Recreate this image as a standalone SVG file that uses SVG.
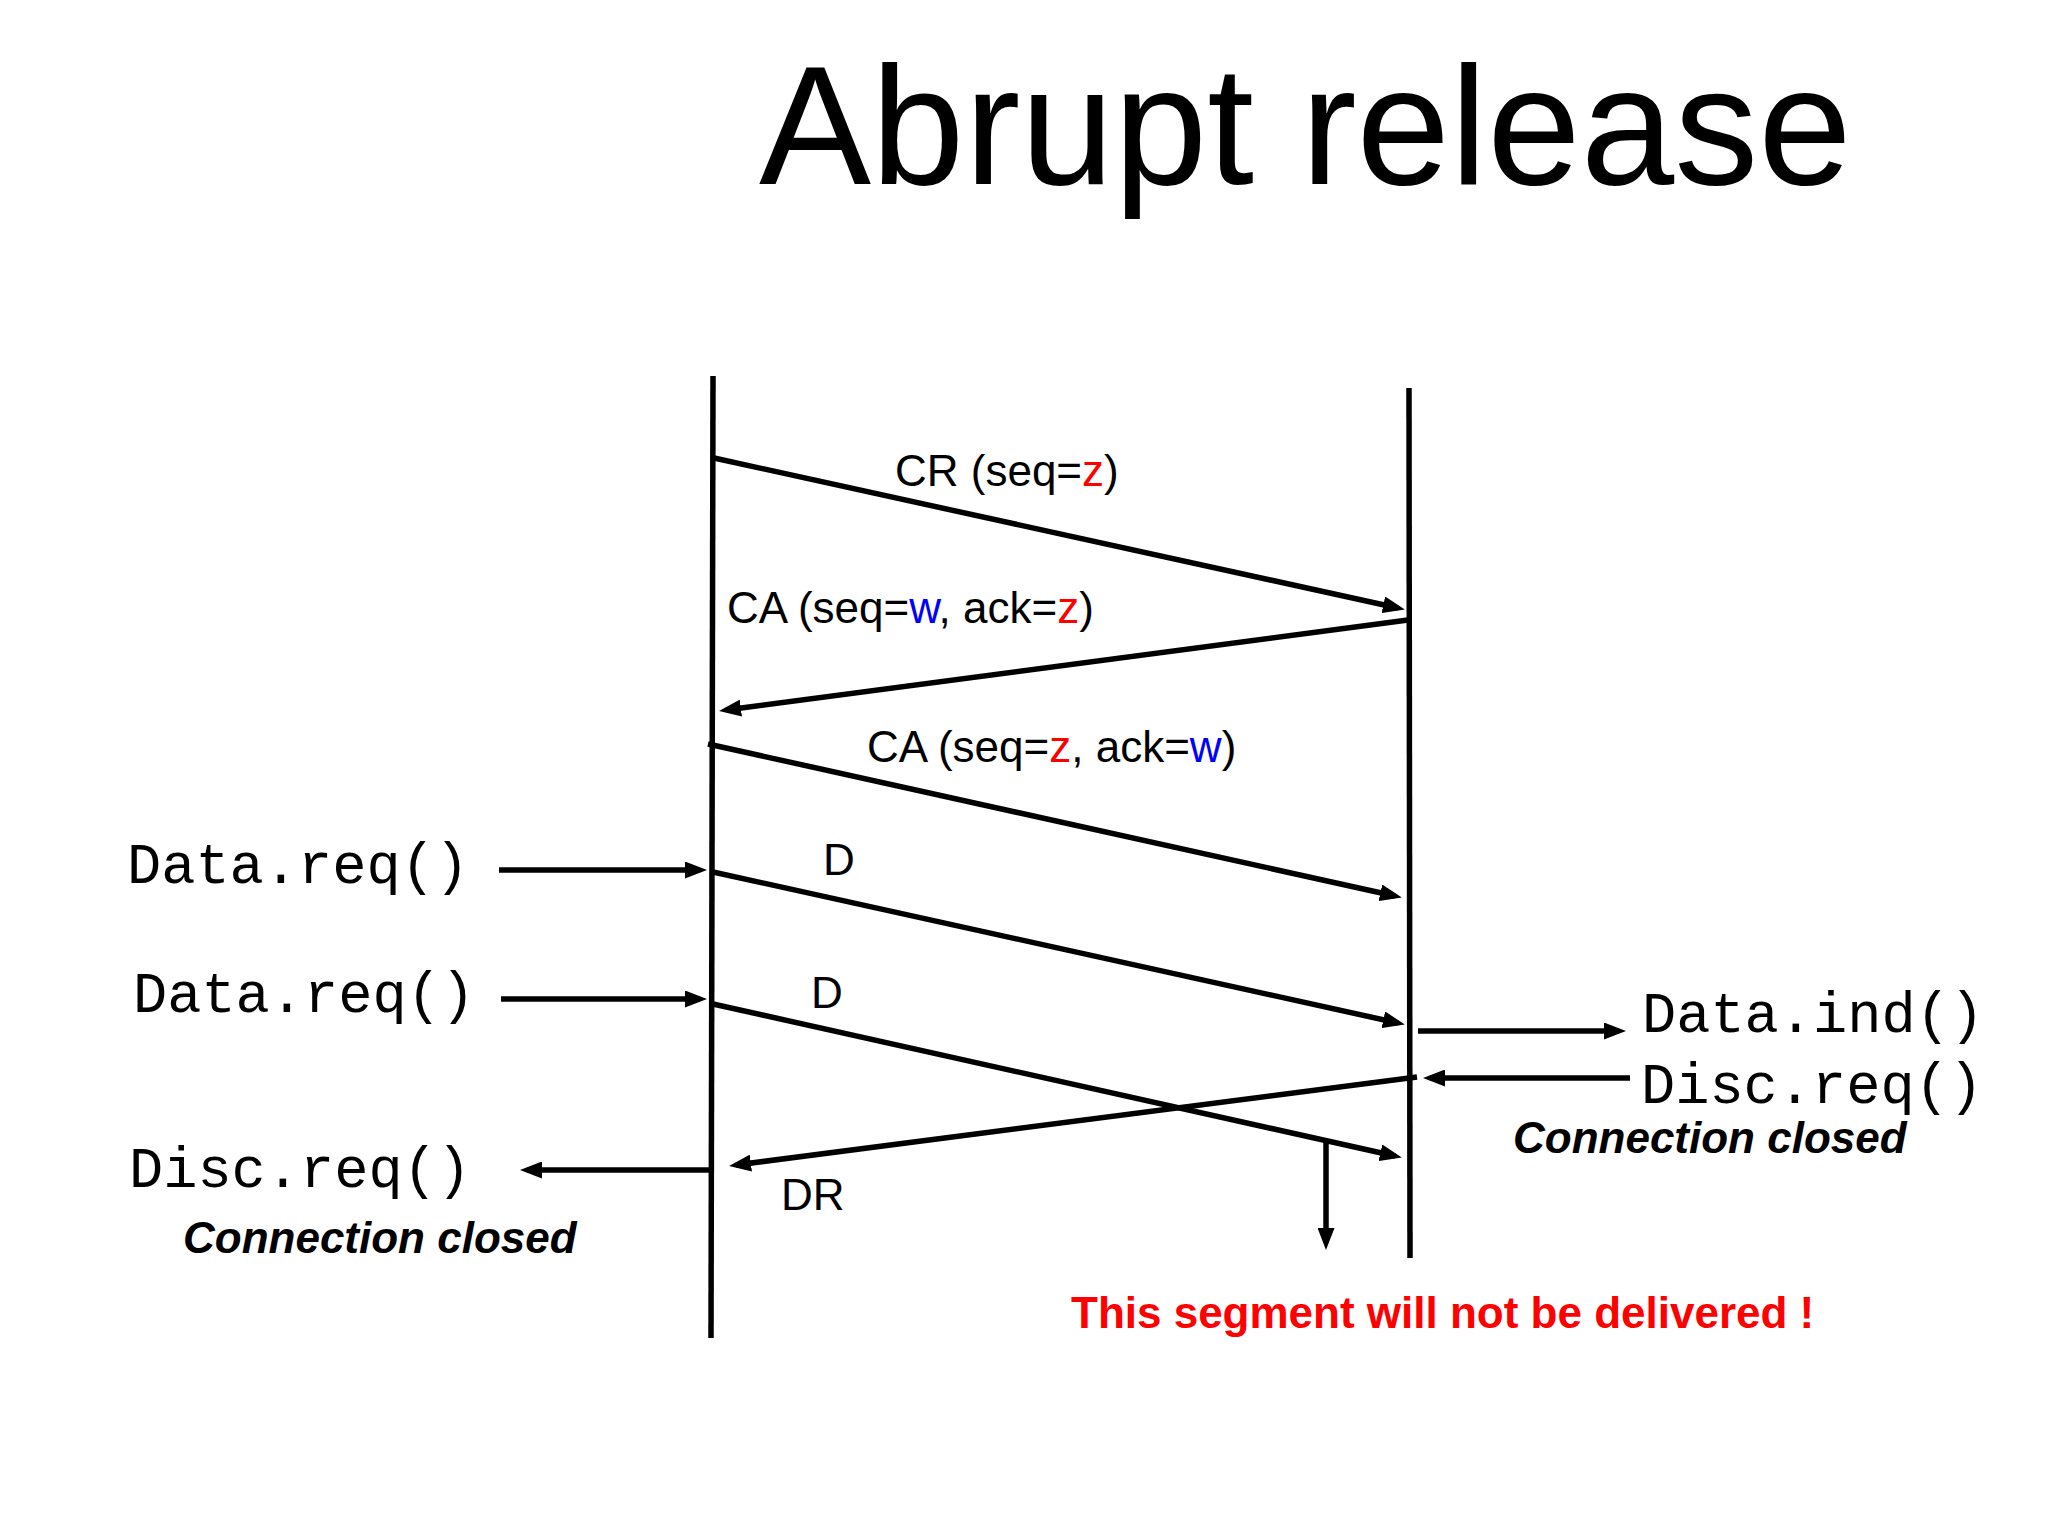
<svg xmlns="http://www.w3.org/2000/svg" width="2048" height="1536" viewBox="0 0 2048 1536">
<style>
.title{font-family:"Liberation Sans",Arial,sans-serif;font-size:168px;fill:#000}
.lbl{font-family:"Liberation Sans",Arial,sans-serif;font-size:44px;fill:#000}
.mono{font-family:"Liberation Mono","Courier New",monospace;font-size:57px;fill:#000}
.closed{font-family:"Liberation Sans",Arial,sans-serif;font-size:44px;font-weight:bold;font-style:italic;fill:#000}
.warn{font-family:"Liberation Sans",Arial,sans-serif;font-size:44px;font-weight:bold;fill:#ff0000}
.r{fill:#ff0000}.b{fill:#0000ff}
.life{stroke:#000;stroke-width:5.5;fill:none}
.msg{stroke:#000;stroke-width:5.5;fill:none;marker-end:url(#ah)}
</style>
<defs>
<marker id="ah" markerUnits="userSpaceOnUse" markerWidth="22" markerHeight="17" viewBox="0 0 22 17" refX="15" refY="8.5" orient="auto">
<path d="M0,0 L22,8.5 L0,17 z" fill="#000"/>
</marker>
</defs>
<rect width="2048" height="1536" fill="#fff"/>
<text class="title" x="759" y="184">Abrupt release</text>

<g id="lifeline-left"><line class="life" x1="713" y1="376" x2="711" y2="1338"/></g>
<g id="lifeline-right"><line class="life" x1="1409" y1="388" x2="1410" y2="1258"/></g>

<g id="connectors">
<line class="msg" x1="714" y1="458" x2="1398" y2="608"/>
<line class="msg" x1="1408" y1="620" x2="726" y2="710"/>
<line class="msg" x1="708" y1="744" x2="1395" y2="896"/>
<line class="msg" x1="713" y1="872" x2="1398" y2="1023"/>
<line class="msg" x1="713" y1="1004" x2="1395" y2="1156"/>
<line class="msg" x1="1417" y1="1077" x2="736" y2="1165"/>
<line class="msg" x1="1326" y1="1140" x2="1326" y2="1243"/>
<line class="msg" x1="1418" y1="1031" x2="1619" y2="1031"/>
<line class="msg" x1="1630" y1="1078" x2="1430" y2="1078"/>
<line class="msg" x1="499" y1="870" x2="700" y2="870"/>
<line class="msg" x1="501" y1="999" x2="700" y2="999"/>
<line class="msg" x1="710" y1="1170" x2="527" y2="1170"/>
</g>

<g id="label-cr"><text class="lbl" x="895" y="486">CR (seq=<tspan class="r">z</tspan>)</text></g>
<g id="label-ca1"><text class="lbl" x="727" y="623">CA (seq=<tspan class="b">w</tspan>, ack=<tspan class="r">z</tspan>)</text></g>
<g id="label-ca2"><text class="lbl" x="867" y="762">CA (seq=<tspan class="r">z</tspan>, ack=<tspan class="b">w</tspan>)</text></g>
<g id="label-d1"><text class="lbl" x="823" y="875">D</text></g>
<g id="label-d2"><text class="lbl" x="811" y="1008">D</text></g>
<g id="label-dr"><text class="lbl" x="781" y="1210">DR</text></g>

<g id="data-req-1"><text class="mono" x="127" y="883">Data.req()</text></g>
<g id="data-req-2"><text class="mono" x="133" y="1012">Data.req()</text></g>
<g id="disc-req-left"><text class="mono" x="129" y="1187">Disc.req()</text></g>
<g id="closed-left"><text class="closed" x="183" y="1253">Connection closed</text></g>

<g id="data-ind"><text class="mono" x="1642" y="1032">Data.ind()</text></g>
<g id="disc-req-right"><text class="mono" x="1641" y="1103">Disc.req()</text></g>
<g id="closed-right"><text class="closed" x="1513" y="1153">Connection closed</text></g>

<g id="warning"><text class="warn" x="1071" y="1328">This segment will not be delivered !</text></g>
</svg>
